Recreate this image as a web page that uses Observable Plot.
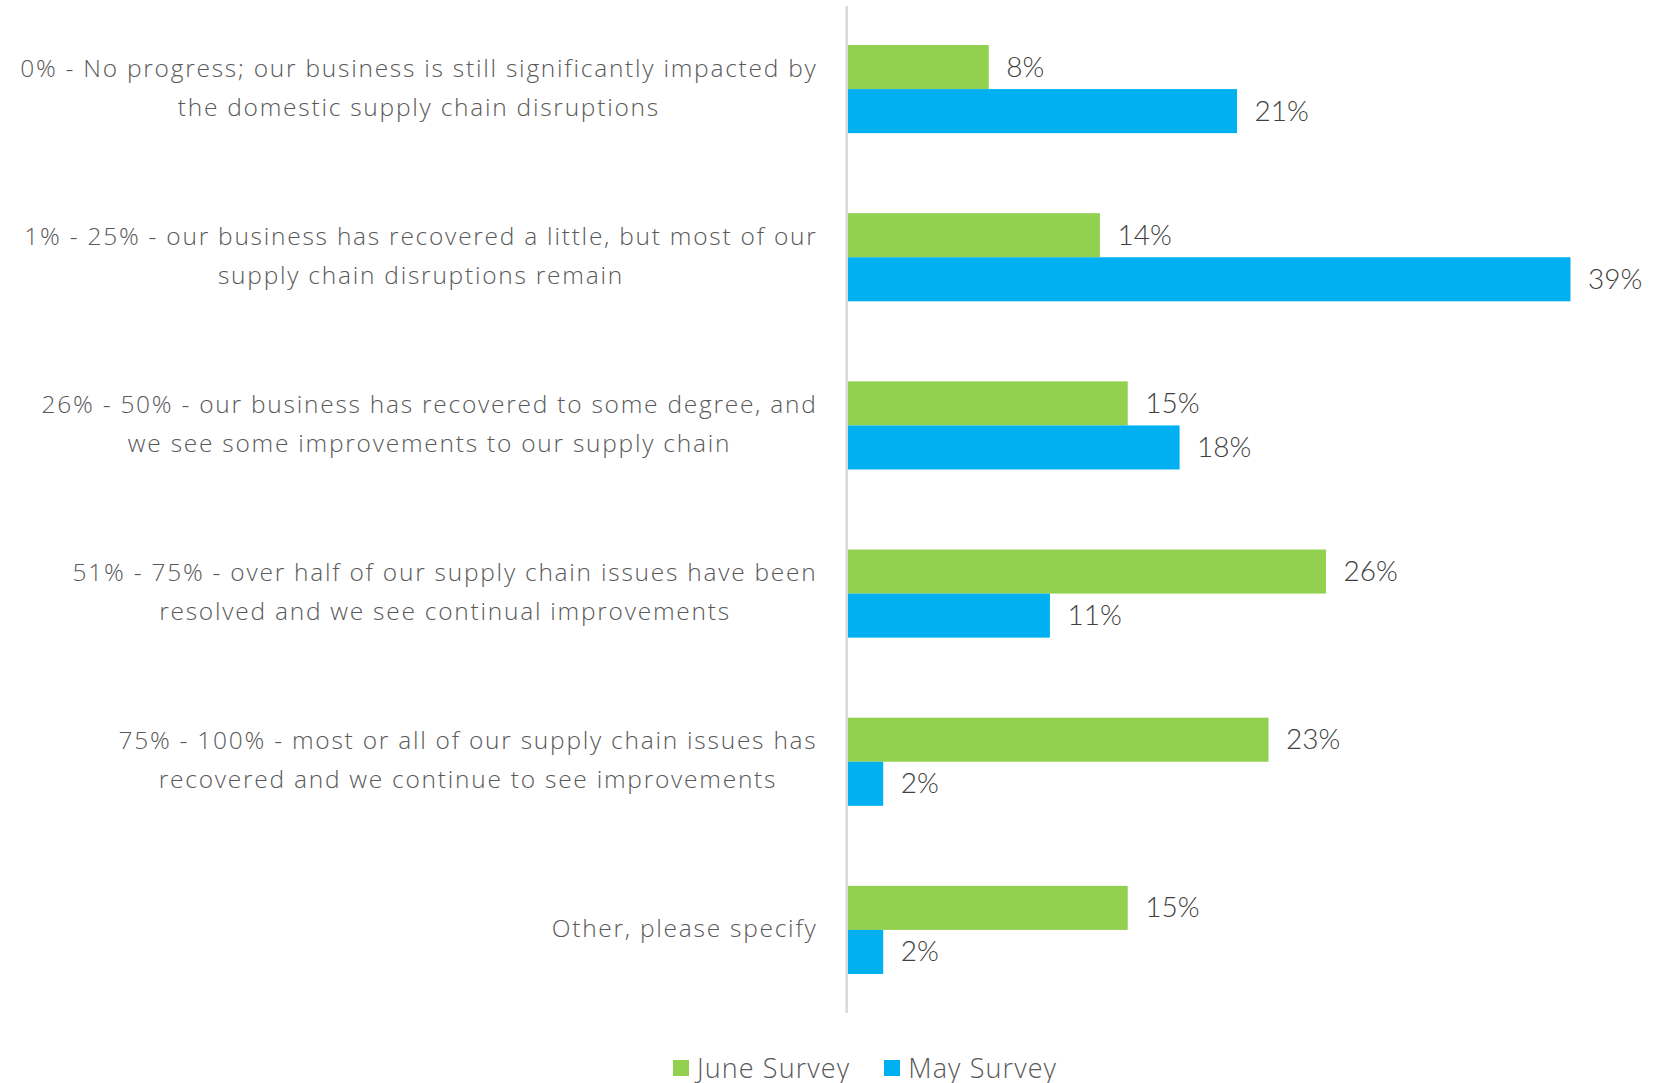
<!DOCTYPE html>
<html>
<head>
<meta charset="utf-8">
<script src="https://cdn.jsdelivr.net/npm/d3@7"></script>
<script src="https://cdn.jsdelivr.net/npm/@observablehq/plot@0.6"></script>
<style>
  html, body { margin: 0; padding: 0; background: #fff; }
  #legend { display: flex; justify-content: center; padding-left: 60px; padding-top: 4px;
    font-family: "Open Sans", sans-serif; font-weight: 300; font-size: 27px; letter-spacing: 1.1px; color: #595959; }
  .sw { display: inline-flex; align-items: center; margin-right: 34px; }
  .sw:last-child { margin-right: 0; }
  .sq { width: 16px; height: 16px; margin-right: 8px; display: inline-block; }
</style>
</head>
<body>
<div id="chart"></div>
<div id="legend"></div>
<script>
const categories = [
  "0% - No progress; our business is still significantly impacted by\nthe domestic supply chain disruptions",
  "1% - 25% - our business has recovered a little, but most of our\nsupply chain disruptions remain",
  "26% - 50% - our business has recovered to some degree, and\nwe see some improvements to our supply chain",
  "51% - 75% - over half of our supply chain issues have been\nresolved and we see continual improvements",
  "75% - 100% - most or all of our supply chain issues has\nrecovered and we continue to see improvements",
  "Other, please specify"
];
const seriesNames = ["June Survey", "May Survey"];
const seriesColors = ["#92D050", "#00B0F0"];
const juneValues = [7.6, 13.6, 15.1, 25.8, 22.7, 15.1];
const mayValues = [21.0, 39.0, 17.9, 10.9, 1.9, 1.9];

const data = [];
categories.forEach((c, i) => {
  data.push({category: c, series: seriesNames[0], value: juneValues[i]});
  data.push({category: c, series: seriesNames[1], value: mayValues[i]});
});

const chart = Plot.plot({
  width: 1670,
  height: 1045,
  marginTop: 5,
  marginBottom: 31,
  marginLeft: 848,
  marginRight: 81,
  style: {fontFamily: "Lato, sans-serif", background: "#fff"},
  x: {domain: [0, 40], axis: null},
  fy: {domain: categories, padding: 0, round: false, axis: null},
  y: {domain: seriesNames, paddingInner: 0, paddingOuter: 0.909, round: false, axis: null},
  color: {domain: seriesNames, range: seriesColors},
  marks: [
    Plot.barX(data, {x: "value", y: "series", fy: "category", fill: "series"}),
    Plot.text(data, {
      x: "value", y: "series", fy: "category",
      text: d => Math.round(d.value) + "%",
      textAnchor: "start", dx: 17, fontSize: 28, fontWeight: 300, fill: "#404040"
    }),
    Plot.text(categories, {
      fy: d => d, text: d => d, frameAnchor: "left", textAnchor: "end",
      dx: -31, dy: -6, fontSize: 24.5, fontWeight: 300, fill: "#595959",
      fontFamily: "Open Sans, sans-serif", lineHeight: 1.6, className: "catlabel"
    })
  ]
});

const svg = d3.select(chart);
const xs = chart.scale("x");
svg.append("line")
  .attr("x1", xs.apply(0) - 1.3).attr("x2", xs.apply(0) - 1.3)
  .attr("y1", 6).attr("y2", 1013)
  .attr("stroke", "#d9d9d9").attr("stroke-width", 2.5);

document.getElementById("chart").appendChild(chart);

// center each multi-line label within its own block, keeping the block's right edge
svg.selectAll("g.catlabel text").each(function() {
  this.style.letterSpacing = "1.75px";
  const b0 = this.getBBox();
  const right = b0.x + b0.width;
  this.setAttribute("text-anchor", "middle");
  const b1 = this.getBBox();
  const delta = (right - b0.width / 2) - (b1.x + b1.width / 2);
  this.setAttribute("transform", (this.getAttribute("transform") || "") + ` translate(${delta},0)`);
});

const color = chart.scale("color");
const legend = d3.select("#legend");
seriesNames.forEach(s => {
  const item = legend.append("span").attr("class", "sw");
  item.append("span").attr("class", "sq").style("background", color.apply(s));
  item.append("span").text(s);
});
</script>
</body>
</html>
